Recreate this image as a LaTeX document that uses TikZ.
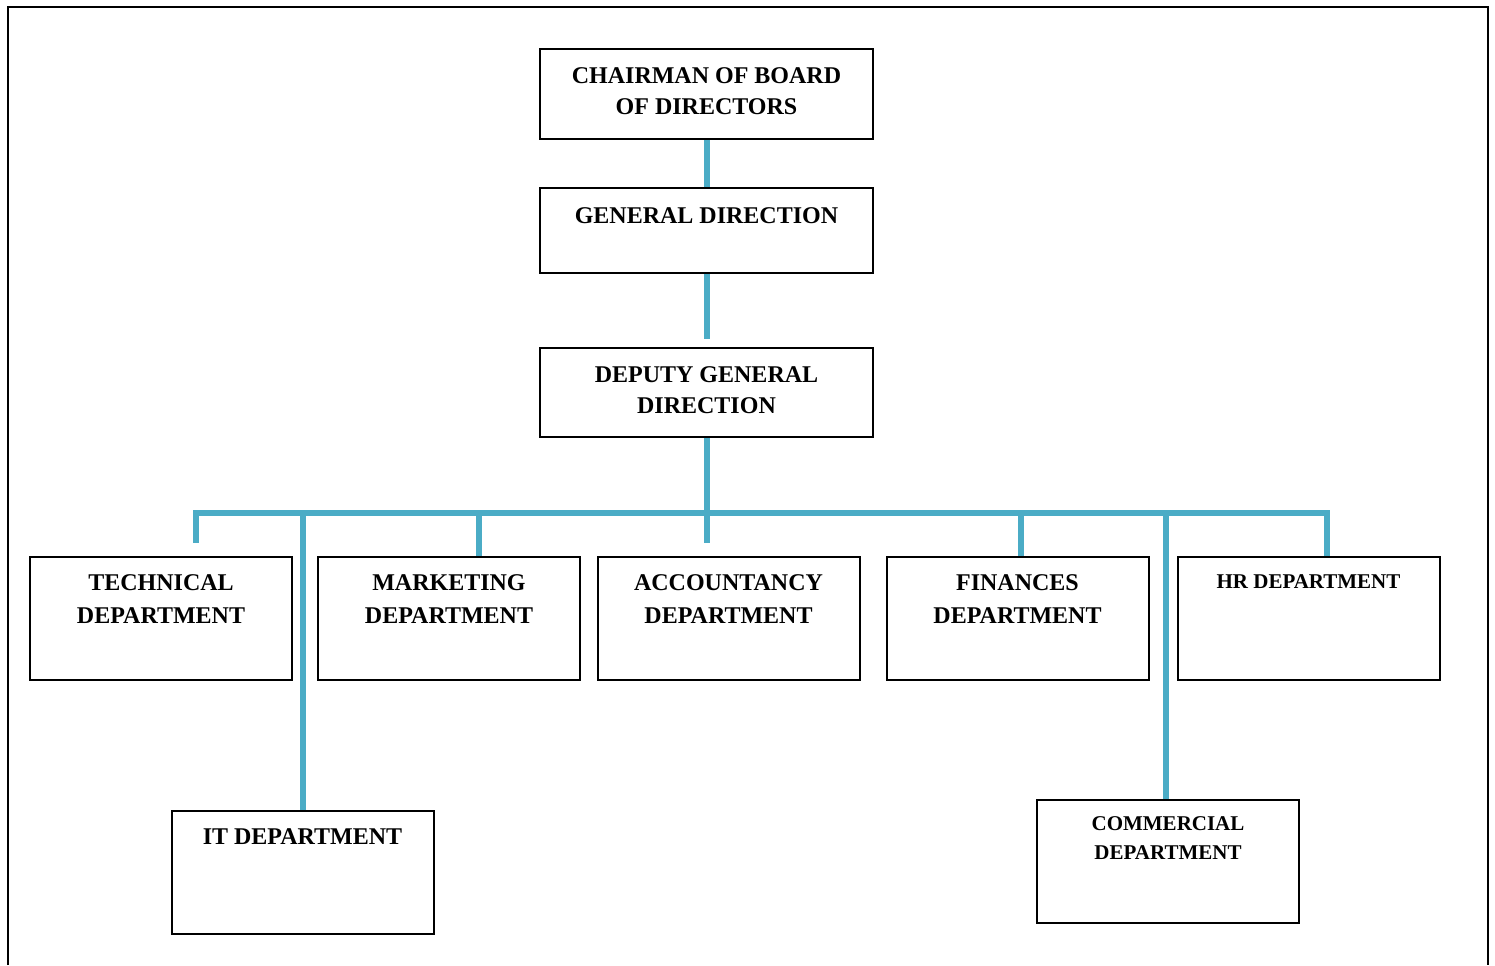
\documentclass[tikz,border=0pt]{standalone}
\usepackage{fontspec}
\setmainfont{Liberation Serif}
\usetikzlibrary{positioning}
\definecolor{linkblue}{RGB}{75,172,198}

\begin{document}
\begin{tikzpicture}[x=0.5pt, y=-0.5pt]

	\tikzset{
	orgbox/.style={draw, line width=1pt, minimum width=131pt, minimum height=61.5pt, inner sep=0pt},
	topbox/.style={orgbox, minimum width=166.5pt, minimum height=45pt},
	boxtext/.style={inner sep=0pt, align=center, font={\fontsize{12}{15.5}\selectfont\bfseries}},
	depttext/.style={boxtext, font={\fontsize{12}{16.5}\selectfont\bfseries}},
	smalltext/.style={boxtext, font={\fontsize{10.5}{14.5}\selectfont\bfseries}},
	link/.style={draw=linkblue, line width=3pt}
	}

	\useasboundingbox (0,0) rectangle (1495,965);
	\draw[line width=1pt] (8,965) -- (8,7) -- (1488,7) -- (1488,965);

	% Nodes
	\node[topbox] (chair) at (706.5,94) {};
	\node[topbox, minimum height=42.5pt, node distance=68.25pt, below of=chair] (gendir) {};
	\node[topbox, minimum height=44.5pt, node distance=81pt, below of=gendir] (deputy) {};

	\node[orgbox] (tech) at (161,618.5) {};
	\node[orgbox, node distance=144pt, right of=tech] (mkt) {};
	\node[orgbox, node distance=139.75pt, right of=mkt] (acct) {};
	\node[orgbox, node distance=144.5pt, right of=acct] (fin) {};
	\node[orgbox, node distance=145.5pt, right of=fin] (hr) {};

	\node[orgbox] (it) at (302.5,872) {};
	\node[orgbox] (comm) at (1168,861) {};

	\node[boxtext, below=9.5pt of chair.north] (chair-txt) {CHAIRMAN OF BOARD\\OF DIRECTORS};
	\node[boxtext, below=10pt of gendir.north] (gendir-txt) {GENERAL DIRECTION};
	\node[boxtext, below=9.5pt of deputy.north] (deputy-txt) {DEPUTY GENERAL\\DIRECTION};
	\node[depttext, below=9pt of tech.north] (tech-txt) {TECHNICAL\\DEPARTMENT};
	\node[depttext, below=9pt of mkt.north] (mkt-txt) {MARKETING\\DEPARTMENT};
	\node[depttext, below=9pt of acct.north] (acct-txt) {ACCOUNTANCY\\DEPARTMENT};
	\node[depttext, below=9pt of fin.north] (fin-txt) {FINANCES\\DEPARTMENT};
	\node[smalltext, below=9pt of hr.north] (hr-txt) {HR DEPARTMENT};
	\node[boxtext, below=9.5pt of it.north] (it-txt) {IT DEPARTMENT};
	\node[smalltext, below=9pt of comm.north] (comm-txt) {COMMERCIAL\\DEPARTMENT};

	\coordinate (bus) at (706.5,513);
	\coordinate (tech-end) at (196,543);
	\coordinate (acct-end) at (706.5,543);

	% Lines
	\draw[link] (chair) -- (gendir);
	\draw[link] (gendir) -- ([yshift=4pt]deputy.north);
	\draw[link] (deputy) -- (bus);
	\draw[link] (tech-end) |- (bus) -| ([xshift=9.25pt]hr.north);
	\draw[link] (bus) -- (acct-end);
	\draw[link] ([xshift=15pt]mkt.north |- bus) -- ([xshift=15pt]mkt.north);
	\draw[link] ([xshift=1.75pt]fin.north |- bus) -- ([xshift=1.75pt]fin.north);
	\draw[link] (it.north |- bus) -- (it);
	\draw[link] ([xshift=-1pt]comm.north |- bus) -- ([xshift=-1pt]comm.north);

\end{tikzpicture}
\end{document}
